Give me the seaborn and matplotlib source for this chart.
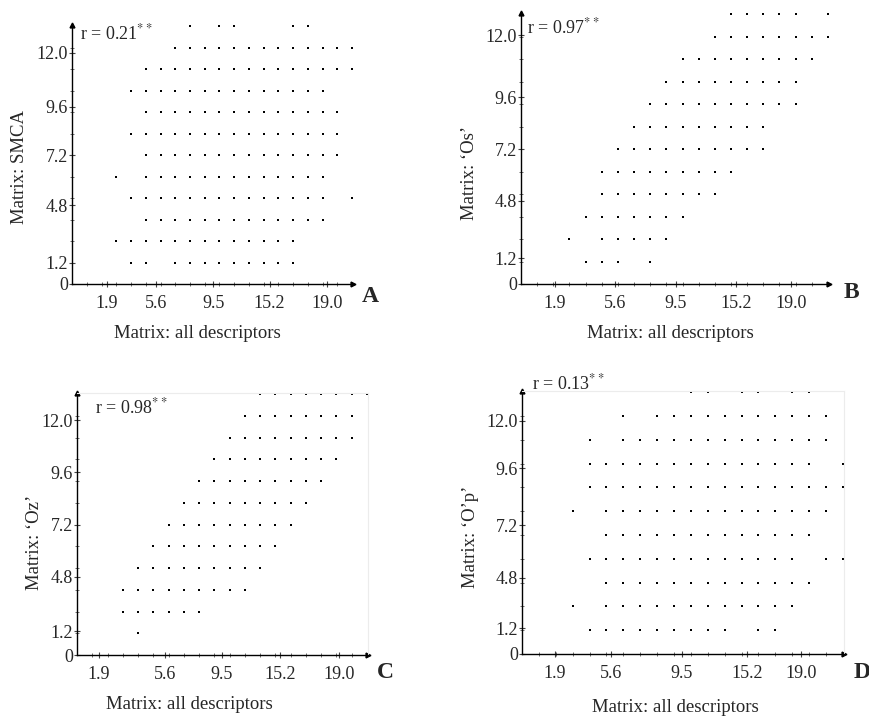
import matplotlib
matplotlib.use('Agg')
import matplotlib.pyplot as plt
import seaborn as sns
import pandas as pd
import numpy as np

sns.set_style('white')
plt.rcParams['font.family'] = ['Liberation Serif', 'DejaVu Serif']
plt.rcParams['mathtext.fontset'] = 'stix'

# dot grid: one list of column indices per row (row 1 first)
rows_a = [[4, 5, 7, 8, 9, 10, 11, 12, 13, 14, 15],
          [3, 4, 5, 6, 7, 8, 9, 10, 11, 12, 13, 14, 15],
          [5, 6, 7, 8, 9, 10, 11, 12, 13, 14, 15, 16, 17],
          [4, 5, 6, 7, 8, 9, 10, 11, 12, 13, 14, 15, 16, 17, 19],
          [3, 5, 6, 7, 8, 9, 10, 11, 12, 13, 14, 15, 16, 17],
          [5, 6, 7, 8, 9, 10, 11, 12, 13, 14, 15, 16, 17, 18],
          [4, 5, 6, 7, 8, 9, 10, 11, 12, 13, 14, 15, 16, 17, 18],
          [5, 6, 7, 8, 9, 10, 11, 12, 13, 14, 15, 16, 17, 18],
          [4, 5, 6, 7, 8, 9, 10, 11, 12, 13, 14, 15, 16, 17],
          [5, 6, 7, 8, 9, 10, 11, 12, 13, 14, 15, 16, 17, 18, 19],
          [7, 8, 9, 10, 11, 12, 13, 14, 15, 16, 17, 18, 19],
          [8, 10, 11, 15, 16]]
rows_b = [[4, 5, 6, 8],
          [3, 5, 6, 7, 8, 9],
          [4, 5, 6, 7, 8, 9, 10],
          [5, 6, 7, 8, 9, 10, 11, 12],
          [5, 6, 7, 8, 9, 10, 11, 12, 13],
          [6, 7, 8, 9, 10, 11, 12, 13, 14, 15],
          [7, 8, 9, 10, 11, 12, 13, 14, 15],
          [8, 9, 10, 11, 12, 13, 14, 15, 16, 17],
          [9, 10, 11, 12, 13, 14, 15, 16, 17],
          [10, 11, 12, 13, 14, 15, 16, 17, 18],
          [12, 13, 14, 15, 16, 17, 18, 19],
          [13, 14, 15, 16, 17, 19]]
rows_c = [[4],
          [3, 4, 5, 6, 7, 8],
          [3, 4, 5, 6, 7, 8, 9, 10, 11],
          [4, 5, 6, 7, 8, 9, 10, 11, 12],
          [5, 6, 7, 8, 9, 10, 11, 12, 13],
          [6, 7, 8, 9, 10, 11, 12, 13, 14],
          [7, 8, 9, 10, 11, 12, 13, 14, 15],
          [8, 9, 10, 11, 12, 13, 14, 15, 16],
          [9, 10, 11, 12, 13, 14, 15, 16, 17],
          [10, 11, 12, 13, 14, 15, 16, 17, 18],
          [11, 12, 13, 14, 15, 16, 17, 18],
          [12, 13, 14, 15, 16, 17, 18, 19]]
rows_d = [[4, 5, 6, 7, 8, 9, 10, 11, 12, 14, 15],
          [3, 5, 6, 7, 8, 9, 10, 11, 12, 13, 14, 15, 16],
          [5, 6, 7, 8, 9, 10, 11, 12, 13, 14, 15, 16, 17],
          [4, 5, 6, 7, 8, 9, 10, 11, 12, 13, 14, 15, 16, 18, 19],
          [5, 6, 7, 8, 9, 10, 11, 12, 13, 14, 15, 16, 17],
          [3, 5, 6, 7, 8, 9, 10, 11, 12, 13, 14, 15, 16, 17, 18],
          [4, 5, 6, 7, 8, 9, 10, 11, 12, 13, 14, 15, 16, 17, 18, 19],
          [4, 5, 6, 7, 8, 9, 10, 11, 12, 13, 14, 15, 16, 17, 19],
          [4, 6, 7, 8, 9, 10, 11, 12, 13, 14, 15, 16, 17, 18],
          [6, 8, 9, 10, 11, 12, 13, 14, 15, 16, 17, 18],
          [10, 11, 13, 14, 16, 17]]

letters = ['A', 'B', 'C', 'D']
y_names = ['Matrix: SMCA', 'Matrix: \u2018Os\u2019', 'Matrix: \u2018Oz\u2019', 'Matrix: \u2018O\u2019p\u2019']
x_name = 'Matrix: all descriptors'
r_values = ['0.21', '0.97', '0.98', '0.13']
x_ticklabels = ['1.9', '5.6', '9.5', '15.2', '19.0']
y_ticklabels = ['0', '1.2', '4.8', '7.2', '9.6', '12.0']

# layout (pixels in the 869x717 picture)
W, H = 869, 717
boxes = [(72.3, 284, 353, 25), (521, 284, 829, 13), (77, 655, 368, 393), (522, 654, 844, 391)]
ylims = [12.05, 12.06, 12.05, 11.05]
xtick_pos = [[2.33, 5.7, 9.57, 13.4, 17.3], [2.1, 5.8, 9.6, 13.3, 16.7],
             [1.45, 5.77, 9.5, 13.3, 17.2], [1.93, 5.3, 9.47, 13.35, 16.5]]
ytick_pos = [[0, 1.0, 3.67, 6.0, 8.25, 10.76], [0, 1.14, 3.7, 6.0, 8.3, 11.07],
             [0, 1.09, 3.6, 6.0, 8.4, 10.8], [0, 1.08, 3.2, 5.4, 7.8, 9.8]]
ylabel_xy = [(-0.158, 0.45), (-0.14, 0.41), (-0.117, 0.43), (-0.134, 0.445)]
xlabel_xy = [(0.444, -0.16), (0.484, -0.15), (0.385, -0.156), (0.475, -0.171)]
letter_px = [(370, 297), (851, 293), (385, 673), (862, 673)]
r_px = [(80, 33), (527, 27), (95, 407), (532, 383)]

fig = plt.figure(figsize=(W / 100, H / 100), dpi=100)

for k, rows in enumerate([rows_a, rows_b, rows_c, rows_d]):
    pts = [(c, r + 1) for r, cols in enumerate(rows) for c in cols]
    df = pd.DataFrame(pts, columns=['x', 'y'])
    x0, y0, x1, y1 = boxes[k]
    ax = fig.add_axes([x0 / W, 1 - y0 / H, (x1 - x0) / W, (y0 - y1) / H])
    sns.scatterplot(data=df, x='x', y='y', ax=ax, marker='s', s=4, color='black',
                    linewidth=0, clip_on=False)
    ax.set_xlim(0, 19.07)
    ax.set_ylim(0, ylims[k])
    for side in ['top', 'right']:
        if k >= 2:
            ax.spines[side].set_color('#ececec')
            ax.spines[side].set_linewidth(0.8)
        else:
            ax.spines[side].set_visible(False)
    for side in ['left', 'bottom']:
        ax.spines[side].set_color('black')
        ax.spines[side].set_linewidth(1.0)
    # arrow ends of the axes
    ax.plot([19.07], [0], marker='>', ms=3.5, color='black', clip_on=False)
    ax.plot([0], [ylims[k]], marker='^', ms=3.5, color='black', clip_on=False)

    ax.set_xticks(xtick_pos[k])
    ax.set_xticklabels(x_ticklabels)
    ax.set_yticks(ytick_pos[k])
    ax.set_yticklabels(y_ticklabels)
    ax.set_xticks(np.arange(1, 20), minor=True)
    ax.set_yticks(np.arange(1, int(ylims[k]) + 1), minor=True)
    ax.tick_params(which='major', direction='inout', length=4, width=0.8, color='#444444',
                   labelsize=13, pad=6, bottom=True, left=True)
    ax.tick_params(which='minor', direction='inout', length=3, width=0.6, color='#555555',
                   bottom=True, left=True)
    ax.tick_params(axis='y', pad=1)
    ax.set_xlabel(x_name, fontsize=13.5)
    ax.set_ylabel(y_names[k], fontsize=13.5)
    ax.xaxis.set_label_coords(*xlabel_xy[k])
    ax.yaxis.set_label_coords(*ylabel_xy[k])
    ax.set_facecolor('white')

    lx, ly = letter_px[k]
    fig.text(lx / W, 1 - ly / H, letters[k], fontsize=17, fontweight='bold',
             ha='center', va='center')
    rx, ry = r_px[k]
    fig.text(rx / W, 1 - ry / H, 'r = ' + r_values[k] + r'$^{**}$', fontsize=13,
             ha='left', va='center')

fig.savefig('out.png', dpi=100, facecolor='white')
